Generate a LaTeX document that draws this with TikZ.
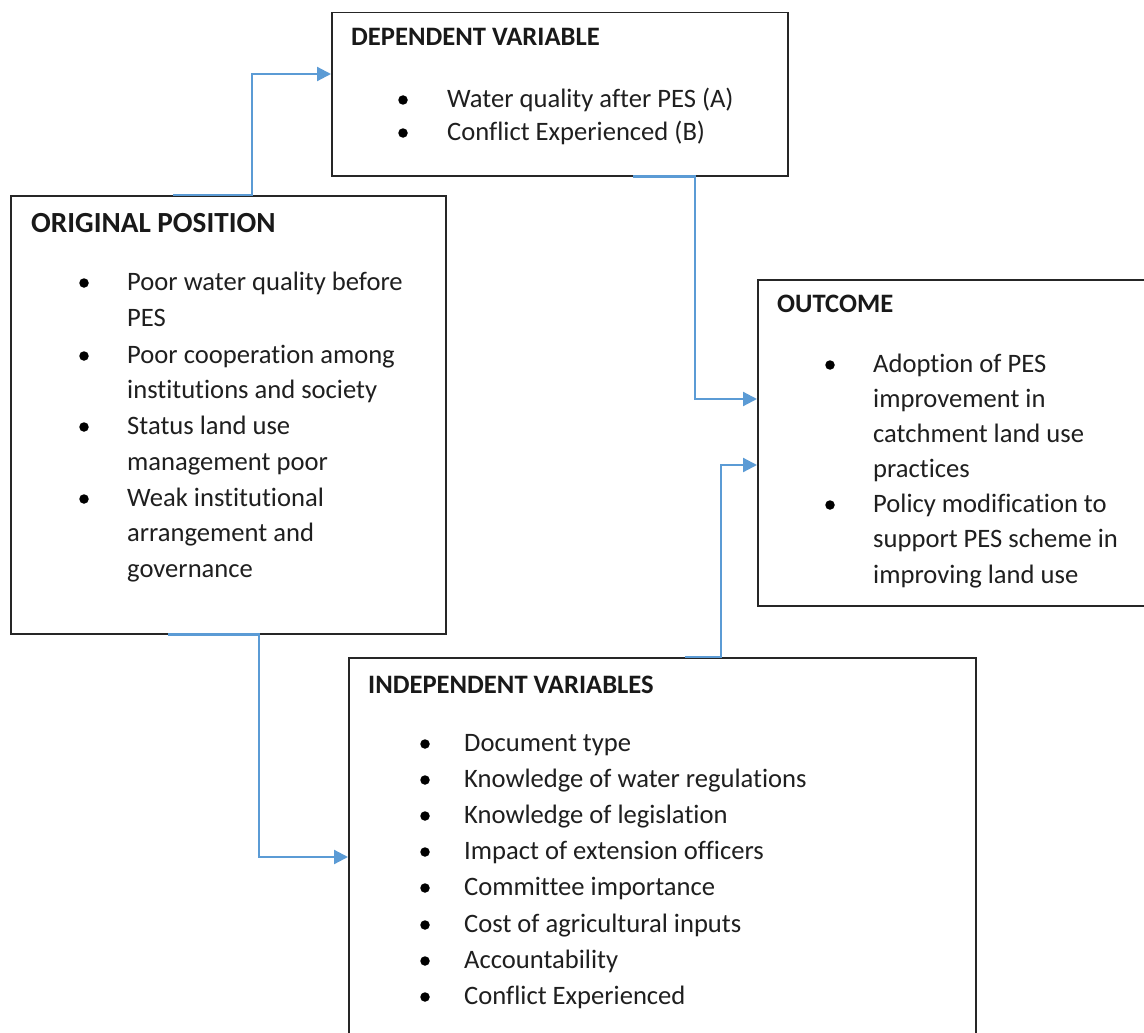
\documentclass[tikz,border=0pt]{standalone}
\usepackage{fontspec}
\setmainfont[Ligatures={NoCommon}]{Carlito}
\usetikzlibrary{arrows.meta}
\definecolor{boxc}{HTML}{262626}
\definecolor{bluec}{HTML}{5B9BD5}
\begin{document}
\begin{tikzpicture}[x=1pt,y=-1pt,
  box/.style={draw=boxc, line width=1.5pt, rectangle, inner sep=0pt, anchor=north west},
  ttl/.style={anchor=base west, inner sep=0pt, font=\bfseries\fontsize{26.6}{30}\selectfont, text=black!90},
  bigttl/.style={ttl, font=\bfseries\fontsize{29.2}{32}\selectfont},
  txt/.style={anchor=base west, inner sep=0pt, font=\fontsize{26.6}{30}\selectfont, text=black!88},
  bul/.style={fill=black, circle, minimum size=9.5pt, inner sep=0pt},
  conn/.style={draw=bluec, line width=2.2pt, -{Triangle[length=14pt,width=14pt]}}]
\useasboundingbox (0,0) rectangle (1144,1033);
\fill[white] (0,0) rectangle (1144,1033);
\clip (0,0) rectangle (1144,1033);

% boxes
\node[box, minimum width=435pt, minimum height=438pt] (orig) at (10,195) {};
\node[box, minimum width=456pt, minimum height=163pt] (dep) at (331,12) {};
\node[box, minimum width=420pt, minimum height=326pt] (out) at (757,279) {};
\node[box, minimum width=627pt, minimum height=420pt] (ind) at (348,657) {};

% titles
\node[bigttl] (origt) at (31,232) {ORIGINAL POSITION};
\node[ttl] (dept) at (351,46) {DEPENDENT VARIABLE};
\node[ttl] (outt) at (777,312) {OUTCOME};
\node[ttl] (indt) at (368,693) {INDEPENDENT VARIABLES};

% original position
\foreach \y in {290,363,434,506} \node[bul] (ob\y) at (84,\y-7) {};
\foreach \t/\y in {Poor water quality before/290, PES/326, Poor cooperation among/363,
  institutions and society/398, Status land use/434, management poor/470,
  Weak institutional/506, arrangement and/541, governance/577}
  \node[txt] (o\y) at (127,\y) {\t};

% dependent variable
\foreach \y in {107,140} \node[bul] (db\y) at (403,\y-7) {};
\node[txt] (d1) at (447,107) {Water quality after PES (A)};
\node[txt] (d2) at (447,140) {Conflict Experienced (B)};

% outcome
\foreach \y in {372,512} \node[bul] (ub\y) at (830,\y-7) {};
\foreach \t/\y in {Adoption of PES/372, improvement in/407, catchment land use/442,
  practices/477, Policy modification to/512, support PES scheme in/547,
  improving land use/583}
  \node[txt] (u\y) at (873,\y) {\t};

% independent variables
\foreach \t/\y in {Document type/751, Knowledge of water regulations/787,
  Knowledge of legislation/823, Impact of extension officers/859,
  Committee importance/895, Cost of agricultural inputs/932,
  Accountability/968, Conflict Experienced/1004}
  {\node[bul] (ib\y) at (425,\y-7) {};
   \node[txt] (i\y) at (464,\y) {\t};}

% connectors
\draw[conn] ([xshift=163pt]orig.north west) -- ([xshift=242pt]orig.north west) |- ([yshift=-62pt]dep.north west);
\draw[conn] ([xshift=302pt]dep.south west) -- ([xshift=364pt]dep.south west) |- ([yshift=-120pt]out.north west);
\draw[conn] ([xshift=158pt]orig.south west) -- ([xshift=249pt]orig.south west) |- ([yshift=-200pt]ind.north west);
\draw[conn] ([xshift=337pt]ind.north west) -- ([xshift=373pt]ind.north west) |- ([yshift=-186pt]out.north west);
\end{tikzpicture}
\end{document}
